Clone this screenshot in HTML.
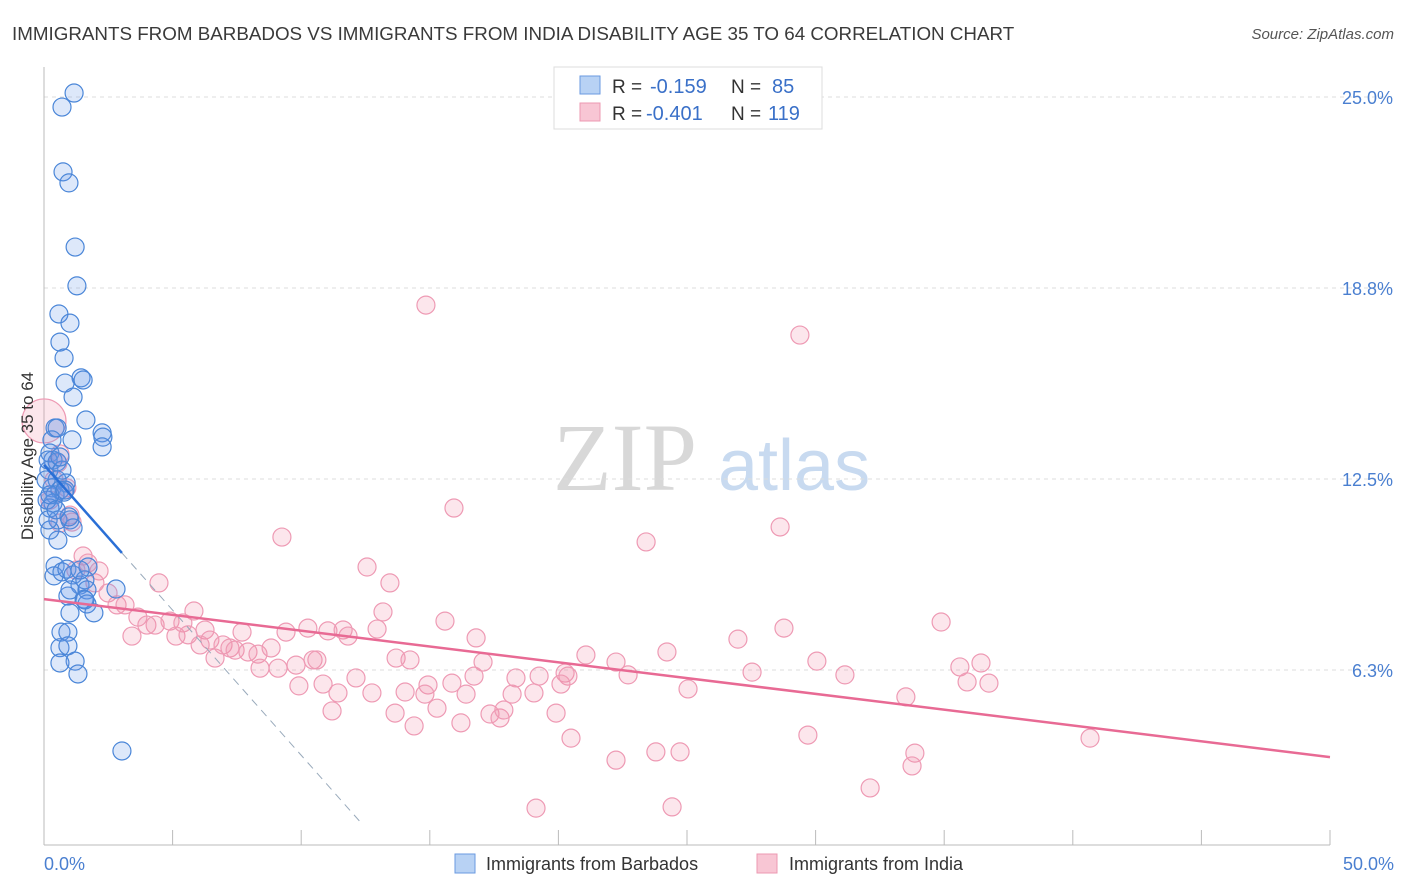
<!DOCTYPE html>
<html><head><meta charset="utf-8"><style>
body{margin:0;background:#fff;font-family:"Liberation Sans",sans-serif}
</style></head><body>
<svg id="chart" width="1406" height="892" xmlns="http://www.w3.org/2000/svg" style="display:block">
<text x="12" y="40" font-size="18.8" fill="#3a3a3a">IMMIGRANTS FROM BARBADOS VS IMMIGRANTS FROM INDIA DISABILITY AGE 35 TO 64 CORRELATION CHART</text>
<text x="1394" y="39" font-size="15" fill="#555" text-anchor="end" font-style="italic">Source: ZipAtlas.com</text>
<g><text x="553" y="490" font-size="96" fill="#d8d8d8" font-family="Liberation Serif,serif">ZIP</text><text x="718" y="490" font-size="72" fill="#c8daf0">atlas</text></g>
<g id="grid"></g><g id="axes"></g><g id="pts"></g><g id="lines"></g>
<text transform="translate(33,456) rotate(-90)" font-size="17" fill="#333" text-anchor="middle">Disability Age 35 to 64</text>
<text x="44" y="870" font-size="18" fill="#4a7fd0">0.0%</text>
<text x="1394" y="870" font-size="18" fill="#4a7fd0" text-anchor="end">50.0%</text>
<g>
<rect x="554" y="67" width="268" height="62" fill="#fff" stroke="#ddd"/>
<rect x="580" y="76" width="20" height="18" fill="#b8d2f4" stroke="#6a9ae0"/>
<rect x="580" y="103" width="20" height="18" fill="#f8c6d4" stroke="#ec98b2"/>
<text x="612" y="93" font-size="19" fill="#333">R =</text><text x="650" y="93" font-size="20" fill="#3a70c8">-0.159</text>
<text x="731" y="93" font-size="19" fill="#333">N =</text><text x="772" y="93" font-size="20" fill="#3a70c8">85</text>
<text x="612" y="120" font-size="19" fill="#333">R =</text><text x="646" y="120" font-size="20" fill="#3a70c8">-0.401</text>
<text x="731" y="120" font-size="19" fill="#333">N =</text><text x="768" y="120" font-size="20" fill="#3a70c8">119</text>
</g>
<g>
<rect x="455" y="854" width="20" height="19" fill="#b8d2f4" stroke="#6a9ae0"/>
<text x="486" y="870" font-size="18" fill="#333">Immigrants from Barbados</text>
<rect x="757" y="854" width="20" height="19" fill="#f8c6d4" stroke="#ec98b2"/>
<text x="789" y="870" font-size="18" fill="#333">Immigrants from India</text>
</g>
</svg>
<script>
const yTicks=[25,18.75,12.5,6.25];
const yTickLabels=["25.0%","18.8%","12.5%","6.3%"];
const xTicks=[0,5,10,15,20,25,30,35,40,45,50];
const blueX=[1.17,0.70,0.74,0.97,1.21,1.28,0.58,1.01,0.62,0.78,1.44,0.82,1.52,1.13,1.63,1.09,2.26,2.29,2.26,0.43,0.31,0.51,0.23,0.35,0.19,0.51,0.31,0.86,0.43,0.62,0.78,0.35,0.23,0.54,1.01,1.13,0.97,0.23,0.54,0.43,0.39,0.70,0.89,1.13,1.71,1.40,1.59,1.67,2.80,0.93,1.56,1.67,1.94,1.01,0.66,0.93,0.62,0.93,1.21,0.62,1.32,3.03,0.16,0.08,0.12,0.23,0.51,0.70,0.82,0.16,0.47,0.62,1.59,1.40,1.01];
const blueY=[25.13,24.67,22.55,22.19,20.09,18.82,17.90,17.60,16.98,16.46,15.81,15.64,15.74,15.18,14.43,13.78,14.01,13.87,13.55,14.17,13.78,14.17,13.35,13.12,12.79,12.47,12.21,12.37,11.98,12.14,12.07,11.71,11.55,11.16,11.16,10.90,11.26,10.83,10.50,9.65,9.33,9.46,9.55,9.36,9.62,9.03,9.20,8.87,8.90,8.67,8.57,8.41,8.12,8.12,7.49,7.49,6.98,7.04,6.54,6.48,6.12,3.60,13.12,12.47,11.81,11.98,13.06,12.79,12.14,11.16,11.49,13.22,8.54,9.52,8.87];
const pinkX=[14.85,29.39,15.94,28.62,9.25,23.41,12.56,13.45,4.47,1.52,1.71,1.24,1.98,2.14,2.49,2.84,3.15,3.65,4.00,3.42,4.32,4.90,5.40,5.83,5.13,5.60,6.26,6.45,6.07,6.65,6.96,7.23,7.70,7.43,7.93,8.32,8.40,8.83,9.10,9.41,9.80,10.26,10.46,10.61,11.04,11.63,11.82,12.95,13.18,9.91,10.85,11.43,11.20,12.13,12.75,13.69,14.23,14.04,13.65,14.39,14.93,14.81,15.28,15.59,16.80,17.07,15.86,16.41,16.21,16.72,17.34,17.73,17.88,18.20,18.35,19.05,19.25,20.26,20.37,20.10,19.91,20.49,21.07,22.24,22.71,24.22,25.04,22.24,23.79,24.73,26.98,27.53,28.77,30.05,31.14,29.70,32.12,33.51,34.88,35.61,35.89,36.43,36.74,33.86,33.75,40.67,19.13,24.42,0,0.54,0.62,0.82,0.89,0.62,1.01,1.09,0.23,0.39];
const pinkY=[18.19,17.21,11.55,10.93,10.60,10.44,9.62,9.10,9.10,9.98,9.75,9.52,9.10,9.49,8.77,8.38,8.38,7.98,7.72,7.36,7.72,7.85,7.79,8.18,7.36,7.40,7.56,7.23,7.07,6.64,7.07,6.97,7.49,6.90,6.84,6.77,6.31,6.97,6.31,7.49,6.41,7.62,6.58,6.58,7.53,7.56,7.36,7.59,8.15,5.73,5.79,5.50,4.91,5.99,5.50,6.64,6.58,5.53,4.84,4.42,5.76,5.46,5.00,7.85,7.30,6.51,5.82,5.46,4.52,6.05,4.81,4.68,4.94,5.46,5.99,5.50,6.05,6.15,6.05,5.79,4.84,4.02,6.74,6.51,6.09,6.84,5.63,3.30,3.57,3.57,7.26,6.18,7.62,6.54,6.09,4.12,2.39,5.37,7.82,6.35,5.86,6.48,5.82,3.53,3.11,4.02,1.73,1.77,14.40,13.02,13.32,12.14,12.21,11.06,11.32,11.09,11.81,12.47];
const blueTrend=[12.96,-0.95];
const pinkTrend=[8.57,-0.1034];
const NS="http://www.w3.org/2000/svg";
const xs=v=>44+v/50*1286, ys=v=>97+(25-v)*30.56;
function mk(parent,tag,attrs){const e=document.createElementNS(NS,tag);for(const k in attrs)e.setAttribute(k,attrs[k]);document.getElementById(parent).appendChild(e);return e;}
yTicks.forEach((t,i)=>{
 const g=mk('grid','line',{x1:44,x2:1394,y1:ys(t),y2:ys(t),stroke:'#ddd','stroke-dasharray':'4,4'});
 
 
 const tx=mk('grid','text',{x:1393,y:ys(t)+7,'font-size':18,fill:'#4a7fd0','text-anchor':'end'});
 tx.textContent=yTickLabels[i];
 
 
});
const ya=mk('axes','line',{x1:44,x2:44,y1:67,y2:845,stroke:'#bbb'});


const xa=mk('axes','line',{x1:44,x2:1330,y1:845,y2:845,stroke:'#bbb'});


xTicks.forEach(t=>{const l=mk('axes','line',{x1:xs(t),x2:xs(t),y1:830,y2:845,stroke:'#bbb'});
 
 });
pinkX.forEach((x,i)=>{const c=mk('pts','circle',{cx:xs(x),cy:ys(pinkY[i]),r:(x===0?22:9),fill:'rgba(240,140,170,0.22)',stroke:'#ee9ab4','stroke-width':1.2});
 
 });
blueX.forEach((x,i)=>{const c=mk('pts','circle',{cx:xs(x),cy:ys(blueY[i]),r:9,fill:'rgba(100,150,230,0.22)',stroke:'#4a86d8','stroke-width':1.2});
 
 });
const bl=mk('lines','line',{x1:xs(0),y1:ys(blueTrend[0]),x2:xs(3.03),y2:ys(blueTrend[0]+blueTrend[1]*3.03),stroke:'#2a6fd6','stroke-width':2.5});


const bd=mk('lines','line',{x1:xs(3.03),y1:ys(blueTrend[0]+blueTrend[1]*3.03),x2:xs(12.4),y2:ys(blueTrend[0]+blueTrend[1]*12.4),stroke:'#9ab','stroke-width':1,'stroke-dasharray':'8,6'});


const pl=mk('lines','line',{x1:xs(0),y1:ys(pinkTrend[0]),x2:xs(50),y2:ys(pinkTrend[0]+pinkTrend[1]*50),stroke:'#e86a94','stroke-width':2.5});


</script>
</body></html>
